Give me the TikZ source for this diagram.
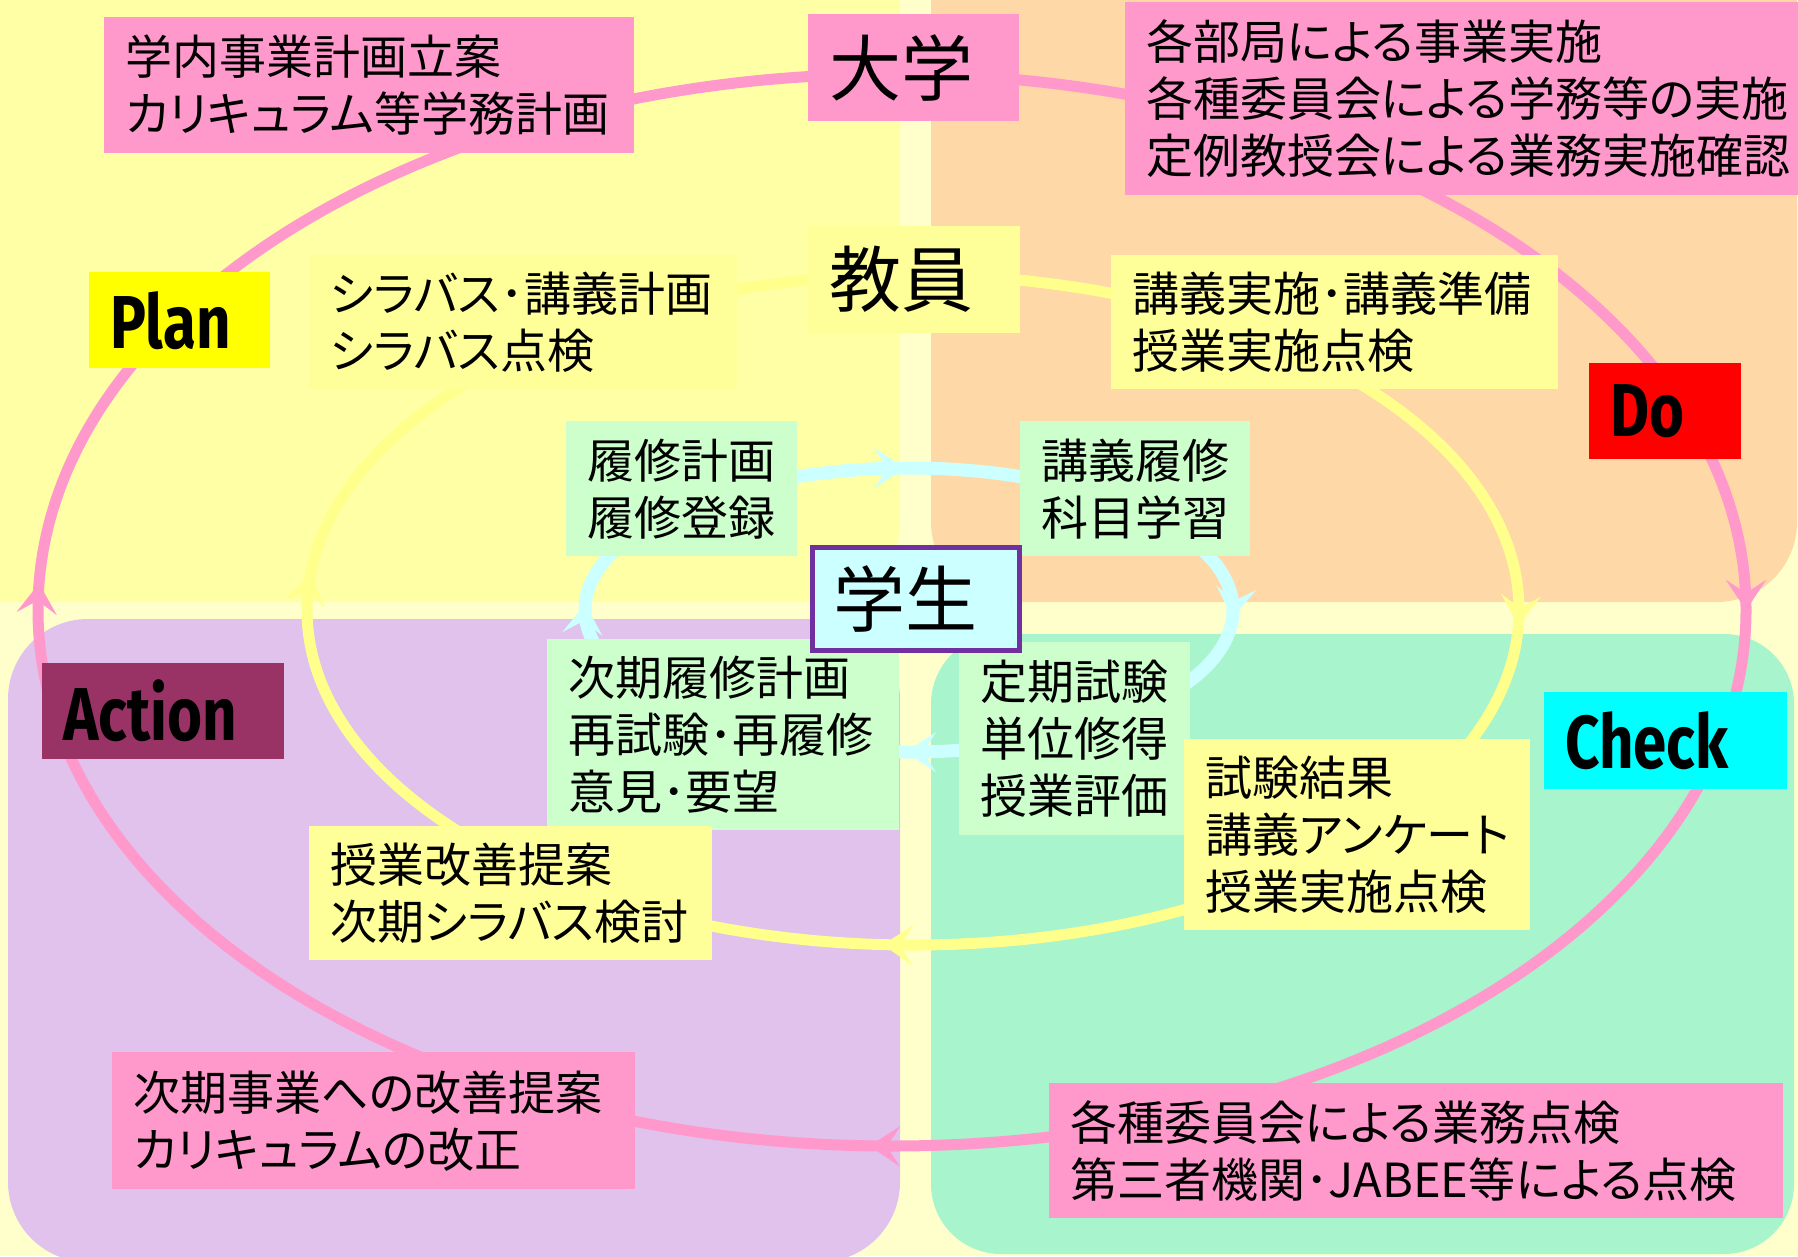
\documentclass[tikz,border=0pt]{standalone}
\usepackage{fontspec}
\setmainfont{Noto Sans CJK JP}[RawFeature={+palt}]
\newfontfamily\pdcafont{Fira Sans}[FakeStretch=0.8]
\usetikzlibrary{arrows.meta,decorations.markings}
\definecolor{bgpale}{HTML}{FFFFCC}
\definecolor{qyellow}{HTML}{FFFFA6}
\definecolor{qpeach}{HTML}{FFD8A8}
\definecolor{qlav}{HTML}{E0C2EC}
\definecolor{qmint}{HTML}{A8F4CC}
\definecolor{bpink}{HTML}{FF99CC}
\definecolor{byellow}{HTML}{FFFF99}
\definecolor{bgreen}{HTML}{CCFFCC}
\definecolor{bcyan}{HTML}{CCFFFF}
\definecolor{spurple}{HTML}{7030A0}
\definecolor{actcol}{HTML}{993366}
\definecolor{plancol}{HTML}{FFFF00}
\definecolor{docol}{HTML}{FF0000}
\definecolor{checkcol}{HTML}{00FFFF}
\definecolor{lpink}{HTML}{FF99CC}
\definecolor{lyellow}{HTML}{FFFF8C}
\definecolor{lcyan}{HTML}{CCFFFF}
\newcommand\jpbody{\fontsize{47}{57}\selectfont}
\newcommand\jpbig{\fontsize{72}{80}\selectfont}
\newcommand\pdcasize{\pdcafont\bfseries\fontsize{75}{80}\selectfont}
\newcommand\pdcabox[7]{%
  \pgfmathsetmacro\bxW{#4-#2}%
  \pgfmathsetmacro\bxH{#5-#3}%
  \pgfmathsetmacro\bxT{#4-#2-42}%
  \node[boxbase,#6,minimum width=\bxW pt,minimum height=\bxH pt,text width=\bxT pt] (#1) at (#2,#3) {#7};}
\tikzset{
  cyctip/.tip={Stealth[length=30pt,width=40pt,inset=13pt,line width=0.1pt]},
  cyclefour/.style n args={4}{postaction={decorate}, decoration={markings,
    mark=at position #1 with {\arrow{cyctip}},
    mark=at position #2 with {\arrow{cyctip}},
    mark=at position #3 with {\arrow{cyctip}},
    mark=at position #4 with {\arrow{cyctip}}}},
  boxbase/.style={rectangle, anchor=north west, inner xsep=21pt, inner ysep=0pt, align=left, font=\jpbody, text=black},
  pinkbox/.style={fill=bpink},
  yelbox/.style={fill=byellow},
  grnbox/.style={fill=bgreen},
  bigbox/.style={font=\jpbig},
  stubox/.style={fill=bcyan, draw=spurple, line width=5pt, font=\jpbig},
  pdcabox/.style={font=\pdcasize},
}
\begin{document}
\begin{tikzpicture}[x=1pt,y=-1pt]
\path[use as bounding box] (0,0) rectangle (1798,1256);
\clip (0,0) rectangle (1798,1256);
% background and quadrants
\fill[bgpale] (0,0) rectangle (1798,1256);
\fill[qyellow, rounded corners=80pt] (-120,-120) rectangle (900,602);
\fill[qpeach, rounded corners=80pt] (931,-120) rectangle (1797,602);
\fill[qlav, rounded corners=80pt] (8,619) rectangle (900,1262);
\fill[qmint, rounded corners=70pt] (931,634) rectangle (1794,1254);
% cycles
\coordinate (pc) at (892,610);
\coordinate (yc) at (913,610);
\coordinate (cc) at (909,610);
\draw[lpink, line width=11pt, cyclefour={0.006}{0.25}{0.5}{0.755}]
  (38,610) arc[start angle=180, end angle=540, x radius=854, y radius=536];
\draw[lyellow, line width=11pt, cyclefour={0.012}{0.25}{0.505}{0.76}]
  (307,610) arc[start angle=180, end angle=540, x radius=606, y radius=335];
\draw[lcyan, line width=13pt, cyclefour={0.004}{0.247}{0.505}{0.752}]
  (585,610) arc[start angle=180, end angle=540, x radius=324, y radius=142];
% boxes
\pdcabox{daigaku}{808}{14}{1019}{121}{pinkbox,bigbox}{大学}
\pdcabox{plantext}{104}{17}{634}{153}{pinkbox}{学内事業計画立案\\カリキュラム等学務計画}
\pdcabox{dotext}{1125}{2}{1860}{195}{pinkbox}{各部局による事業実施\\各種委員会による学務等の実施\\定例教授会による業務実施確認}
\pdcabox{kyouin}{808}{226}{1020}{333}{yelbox,bigbox}{教員}
\pdcabox{syllabus}{309}{255}{737}{389}{yelbox}{シラバス･講義計画\\シラバス点検}
\pdcabox{kougi}{1111}{255}{1558}{389}{yelbox}{講義実施･講義準備\\授業実施点検}
\pdcabox{plan}{89}{272}{270}{368}{fill=plancol,pdcabox}{Plan}
\pdcabox{do}{1589}{363}{1741}{459}{fill=docol,pdcabox}{Do}
\pdcabox{rishu}{566}{421}{797}{556}{grnbox}{履修計画\\履修登録}
\pdcabox{kougirishu}{1020}{421}{1250}{556}{grnbox}{講義履修\\科目学習}
\pdcabox{jiki}{547}{639}{899}{830}{grnbox}{次期履修計画\\再試験･再履修\\意見･要望}
\pdcabox{teiki}{959}{642}{1190}{835}{grnbox}{定期試験\\単位修得\\授業評価}
\pdcabox{gakusei}{809.5}{544.5}{1016.5}{647.5}{stubox}{学生}
\pdcabox{action}{42}{663}{284}{759}{fill=actcol,pdcabox}{Action}
\pdcabox{check}{1544}{692}{1787}{789}{fill=checkcol,pdcabox}{Check}
\pdcabox{shiken}{1184}{739}{1530}{930}{yelbox}{試験結果\\講義アンケート\\授業実施点検}
\pdcabox{kaizen}{309}{826}{712}{960}{yelbox}{授業改善提案\\次期シラバス検討}
\pdcabox{actext}{112}{1052}{635}{1189}{pinkbox}{次期事業への改善提案\\カリキュラムの改正}
\pdcabox{checktext}{1049}{1083}{1783}{1218}{pinkbox}{各種委員会による業務点検\\第三者機関･JABEE等による点検}
\end{tikzpicture}
\end{document}
